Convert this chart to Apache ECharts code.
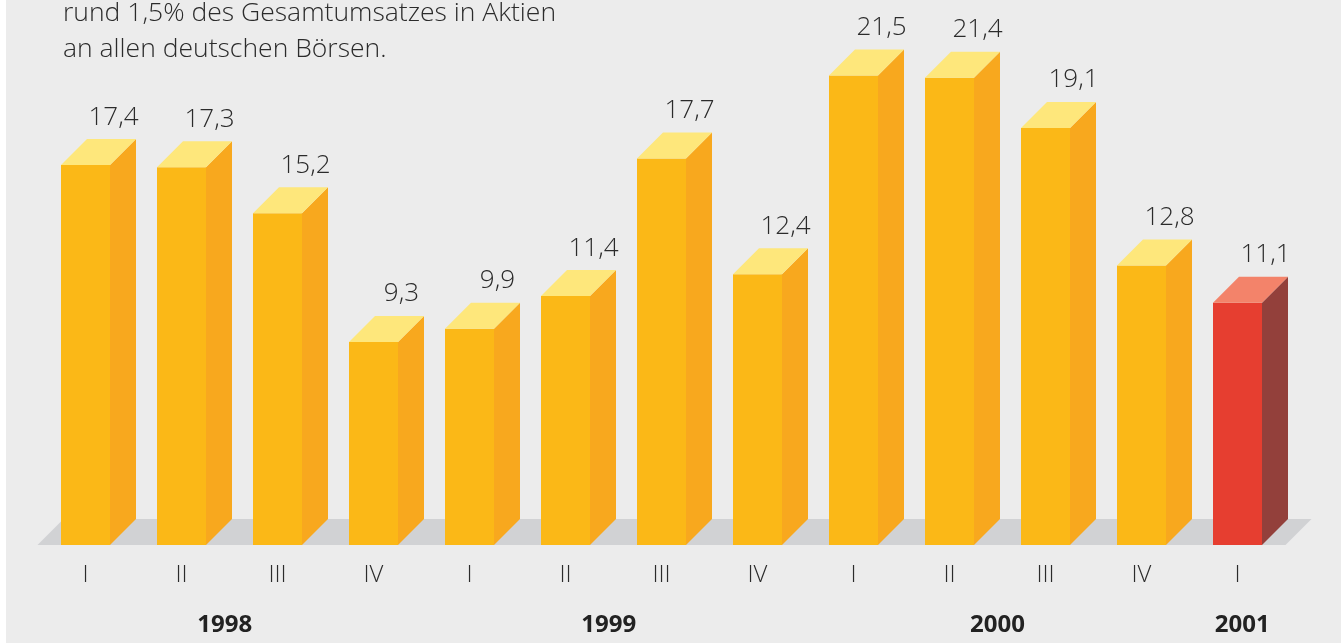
<!DOCTYPE html>
<html lang="de">
<head>
  <meta charset="UTF-8">
  <title>Umsatz je Quartal</title>
  <script src="https://cdn.jsdelivr.net/npm/echarts@6/dist/echarts.min.js"></script>
  <style>
    html, body { margin: 0; padding: 0; background: #fff; }
    #chart { width: 1341px; height: 644px; }
  </style>
</head>
<body>
  <div id="chart"></div>
  <script>
    // quarters 1998 I .. 2001 I
    var quarters = ['I', 'II', 'III', 'IV', 'I', 'II', 'III', 'IV', 'I', 'II', 'III', 'IV', 'I'];
    var values = [17.4, 17.3, 15.2, 9.3, 9.9, 11.4, 17.7, 12.4, 21.5, 21.4, 19.1, 12.8, 11.1];
    // year label sits at this (fractional) category position
    var years = ['1998', '1999', '2000', '2001'];
    var yearPos = [1.45, 5.45, 9.5, 12.05];
    var introLines = ['rund 1,5% des Gesamtumsatzes in Aktien', 'an allen deutschen Börsen.'];

    var DEPTH = 26;
    var BAR_W = 49;
    var normal = { front: '#FBB817', side: '#F8A81E', top: '#FEE77B' };
    var latest = { front: '#E63E30', side: '#93403B', top: '#F3836A' };
    var LIGHT = '"Open Sans"';

    var chart = echarts.init(document.getElementById('chart'));

    function renderBar(params, api) {
      var idx = api.value(0);
      var val = api.value(1);
      var base = api.coord([idx, 0]);
      var head = api.coord([idx, val]);
      var l = base[0] - BAR_W / 2, r = base[0] + BAR_W / 2;
      var b = base[1], t = head[1];
      var c = idx === values.length - 1 ? latest : normal;
      return {
        type: 'group',
        children: [
          { type: 'rect', shape: { x: l, y: t, width: BAR_W, height: b - t }, style: { fill: c.front } },
          { type: 'polygon', shape: { points: [[r, t], [r + DEPTH, t - DEPTH], [r + DEPTH, b - DEPTH], [r, b]] }, style: { fill: c.side } },
          { type: 'polygon', shape: { points: [[l, t], [l + DEPTH, t - DEPTH], [r + DEPTH, t - DEPTH], [r, t]] }, style: { fill: c.top } },
          {
            type: 'text',
            style: {
              text: String(val).replace('.', ','),
              x: base[0] + DEPTH + 2, y: t - DEPTH - 22,
              align: 'center', verticalAlign: 'middle',
              font: '300 26px ' + LIGHT, fill: '#2b2b2b'
            }
          }
        ]
      };
    }

    function renderFloor(params, api) {
      var first = api.coord([0, 0]);
      var last = api.coord([values.length - 1, 0]);
      var band = api.size([1, 0])[0];
      var l = first[0] - band / 2, r = last[0] + band / 2, b = first[1];
      return {
        type: 'polygon',
        shape: { points: [[l, b], [l + DEPTH, b - DEPTH], [r + DEPTH, b - DEPTH], [r, b]] },
        style: { fill: '#D1D2D4' }
      };
    }

    function renderYear(params, api) {
      var p = api.coord([api.value(0), 0]);
      return {
        type: 'text',
        style: {
          text: years[params.dataIndex],
          x: p[0], y: p[1] + 80,
          align: 'center', verticalAlign: 'middle',
          font: 'bold 24px "Open Sans"', fill: '#222'
        }
      };
    }

    var option = {
      backgroundColor: '#fff',
      animation: false,
      graphic: [{
        type: 'rect', left: 6, top: 0, z: -10,
        shape: { width: 1335, height: 643 },
        style: { fill: '#ECECEC' }
      }],
      title: {
        text: introLines.join('\n'),
        left: 58, top: -10,
        textStyle: { fontFamily: 'Open Sans', fontWeight: 300, fontSize: 26.5, lineHeight: 36, color: '#2b2b2b' }
      },
      grid: { left: 37.5, right: 55.5, top: 21, bottom: 99 },
      xAxis: [{
        type: 'category',
        data: quarters,
        axisLine: { show: false },
        axisTick: { show: false },
        axisLabel: { margin: 18, fontFamily: 'Open Sans', fontWeight: 300, fontSize: 24, color: '#2b2b2b' }
      }, {
        type: 'value', min: -0.5, max: values.length - 0.5, show: false
      }],
      yAxis: { type: 'value', min: 0, max: 24, show: false },
      series: [{
        type: 'custom',
        renderItem: renderFloor,
        data: [[0, 0]],
        z: 1,
        silent: true
      }, {
        type: 'custom',
        renderItem: renderBar,
        data: values.map(function (v, i) { return [i, v]; }),
        z: 2
      }, {
        type: 'custom',
        xAxisIndex: 1,
        renderItem: renderYear,
        data: yearPos.map(function (p) { return [p, 0]; }),
        z: 3
      }]
    };
    chart.setOption(option);
  </script>
</body>
</html>
